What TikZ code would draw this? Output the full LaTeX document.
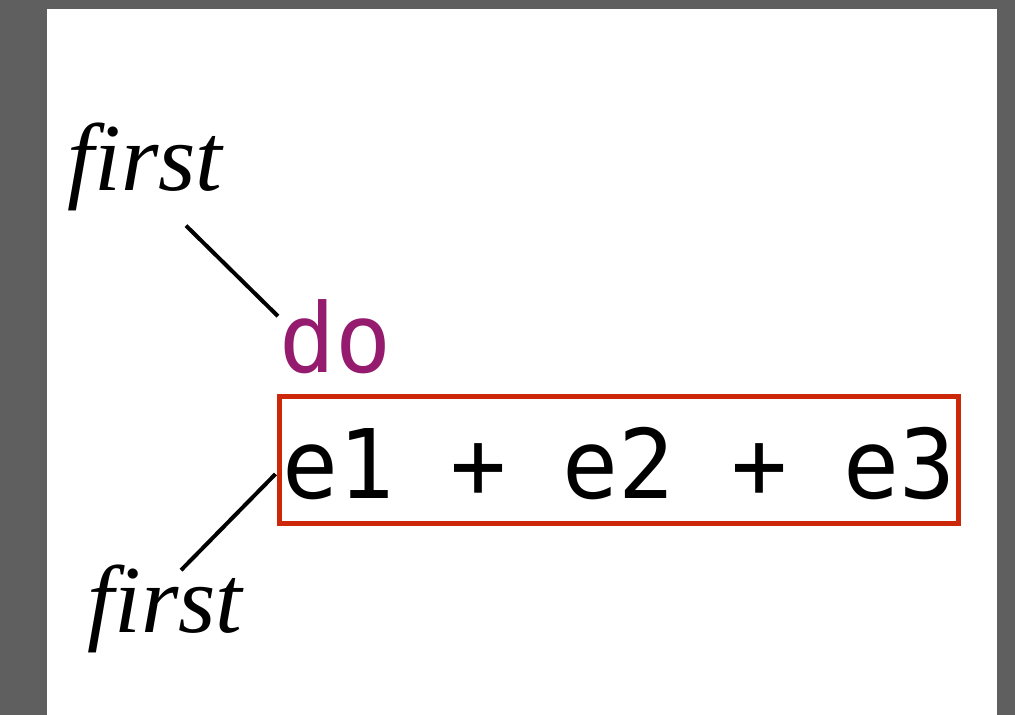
\documentclass[tikz,border=0pt]{standalone}
\usepackage{fontspec}
\setmainfont{Liberation Serif}
\newfontfamily\codefont[FakeStretch=0.97]{DejaVu Sans Mono}
\usepackage{xcolor}
\usetikzlibrary{calc,positioning}
\definecolor{frame}{RGB}{95,95,95}
\definecolor{kwpurple}{RGB}{149,27,110}
\definecolor{boxred}{RGB}{203,39,8}
\begin{document}
\begin{tikzpicture}[x=1pt,y=-1pt,
  lbl/.style={inner sep=0pt,anchor=base,font=\fontsize{96}{96}\selectfont\itshape},
  kw/.style={inner sep=0pt,anchor=base west,text=kwpurple,font=\fontsize{96}{96}\selectfont\codefont},
  codebox/.style={draw=boxred,line width=5pt,inner sep=0pt,minimum width=679pt,minimum height=127pt,
             text height=76pt,text depth=0pt,font=\fontsize{96}{96}\selectfont\codefont},
  link/.style={line width=4pt}]
  \fill[frame] (0,0) rectangle (1015,715);
  \fill[white] (47,9) rectangle (997,715);
  \node[lbl] (ftop) at (145,190) {first};
  \node[kw] (do) at (279,372) {do};
  \node[codebox] (code) at (619,460) {e1 + e2 + e3};
  \node[lbl] (fbot) at (165,632) {first};
  \draw[link] ($(ftop.south)+(41,15)$) -- ($(do.west)+(-1,-20)$);
  \draw[link] ($(code.west)+(-1.5,14)$) -- ($(fbot.north)+(16,6)$);
\end{tikzpicture}
\end{document}
